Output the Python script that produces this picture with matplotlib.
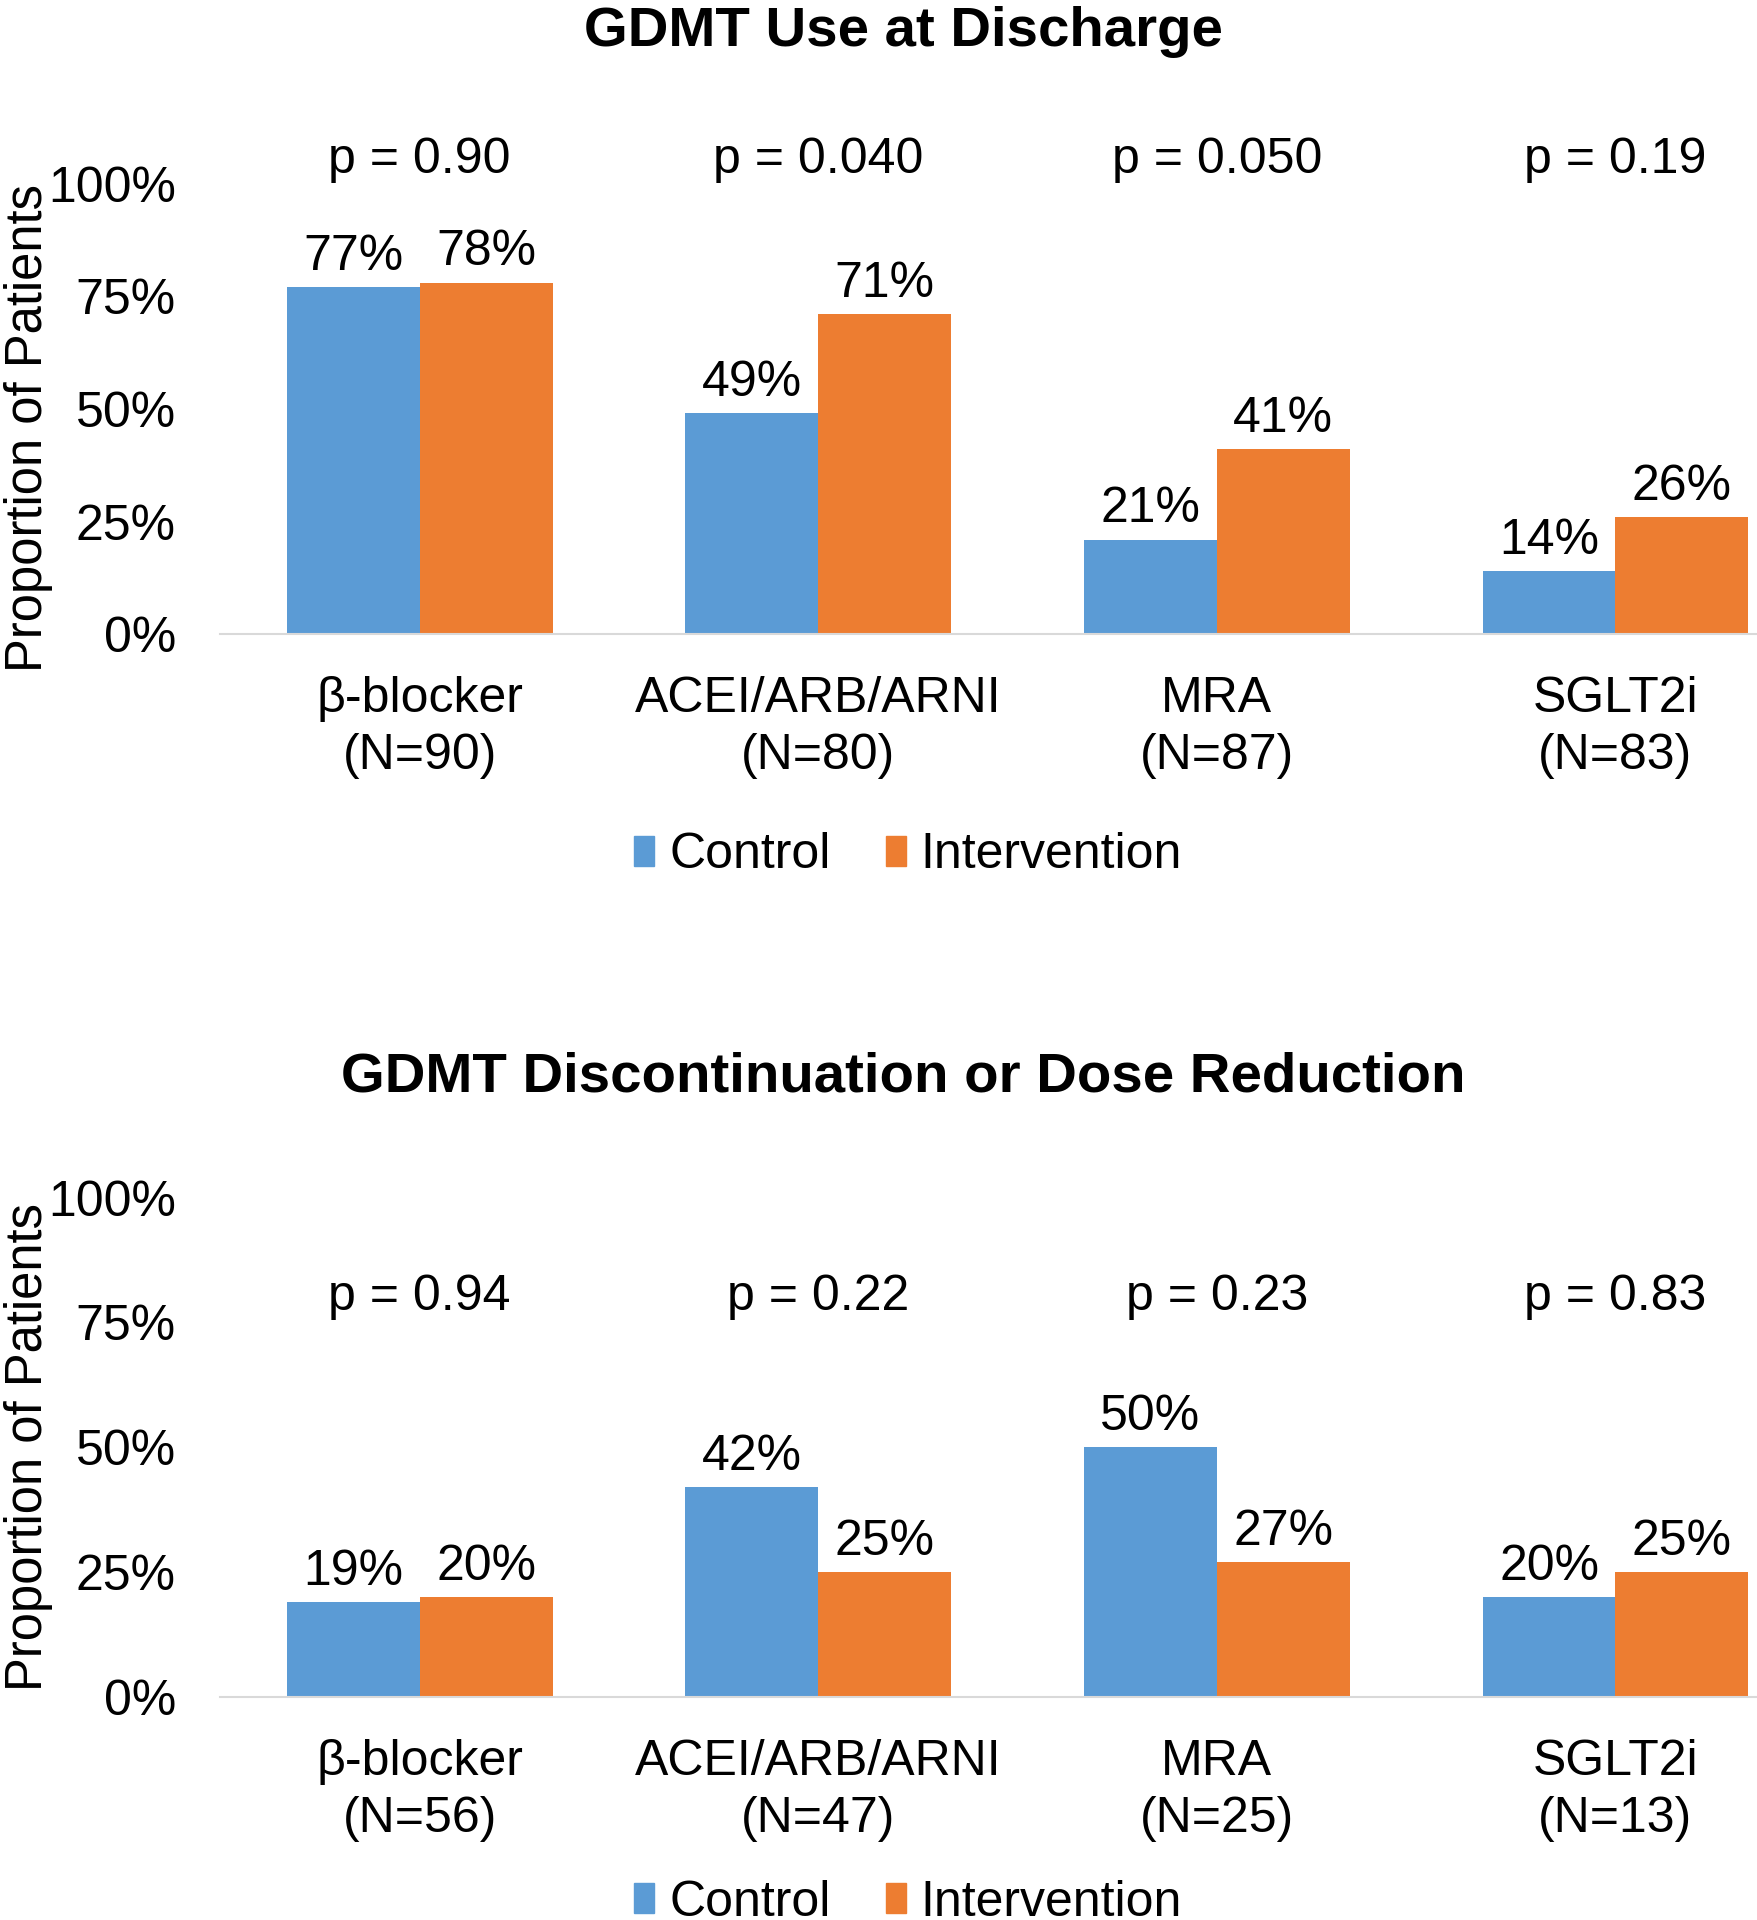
import matplotlib
matplotlib.use("Agg")
import matplotlib.pyplot as plt
from matplotlib.patches import Patch
import numpy as np

plt.rcParams['font.family'] = ['Liberation Sans', 'DejaVu Sans']

# data
drugs = ["β-blocker", "ACEI/ARB/ARNI", "MRA", "SGLT2i"]
n_discharge = [90, 80, 87, 83]
n_reduction = [56, 47, 25, 13]
control_discharge = [77, 49, 21, 14]
interv_discharge = [78, 71, 41, 26]
control_reduction = [19, 42, 50, 20]
interv_reduction = [20, 25, 27, 25]
p_discharge = ["0.90", "0.040", "0.050", "0.19"]
p_reduction = ["0.94", "0.22", "0.23", "0.83"]

BLUE = "#5B9BD5"
ORANGE = "#ED7D31"
FS = 36

fig = plt.figure(figsize=(17.57, 19.2), dpi=100)


def panel(rect, ctrl, intv, nvals, pvals, p_y, label_y):
    ax = fig.add_axes(rect)
    x = np.arange(len(drugs))
    w = 1 / 3
    ax.bar(x - w / 2, np.array(ctrl) / 100, w, color=BLUE)
    ax.bar(x + w / 2, np.array(intv) / 100, w, color=ORANGE)
    for xi, c, i in zip(x, ctrl, intv):
        ax.annotate(f"{c}%", (xi - w / 2, c / 100), xytext=(0, 22), textcoords="offset points",
                    ha="center", va="center", fontsize=FS)
        ax.annotate(f"{i}%", (xi + w / 2, i / 100), xytext=(0, 22), textcoords="offset points",
                    ha="center", va="center", fontsize=FS)
    for xi, p in zip(x, pvals):
        ax.text(xi, p_y, f"p = {p}", ha="center", va="center", fontsize=FS, clip_on=False)
    ax.set_xlim(-0.5, 3.355)
    ax.set_ylim(0, 1)
    ax.set_yticks([0, 0.25, 0.5, 0.75, 1.0])
    ax.set_yticklabels(["0%", "25%", "50%", "75%", "100%"])
    ax.set_xticks(x)
    ax.set_xticklabels([f"{d}\n(N={n})" for d, n in zip(drugs, nvals)], linespacing=1.32)
    ax.tick_params(axis="y", length=0, pad=32, labelsize=FS)
    ax.tick_params(axis="x", length=0, pad=30, labelsize=FS)
    for s in ["top", "right", "left"]:
        ax.spines[s].set_visible(False)
    ax.spines["bottom"].set_color("#D9D9D9")
    ax.spines["bottom"].set_linewidth(1.5)
    ax.set_ylabel("Proportion of Patients", fontsize=FS + 0.5)
    ax.yaxis.set_label_coords(-0.109, label_y)
    return ax


panel([0.1254, 0.6697, 0.8746, 0.2346], control_discharge, interv_discharge,
      n_discharge, p_discharge, 1.052, 0.457)
panel([0.1254, 0.1161, 0.8746, 0.2602], control_reduction, interv_reduction,
      n_reduction, p_reduction, 0.80, 0.5)

fig.text(0.514, 0.9835, "GDMT Use at Discharge", ha="center", va="center",
         fontsize=40.6, fontweight="bold")
fig.text(0.514, 0.4386, "GDMT Discontinuation or Dose Reduction", ha="center", va="center",
         fontsize=40.6, fontweight="bold")

handles = [Patch(color=BLUE, label="Control"), Patch(color=ORANGE, label="Intervention")]
for y in [0.5545, 0.009]:
    fig.legend(handles=handles, loc="center", bbox_to_anchor=(0.517, y), ncol=2,
               frameon=False, fontsize=FS, handlelength=0.4, handleheight=0.55,
               handletextpad=0.3, columnspacing=1.1)

fig.savefig("out.png", dpi=100)
